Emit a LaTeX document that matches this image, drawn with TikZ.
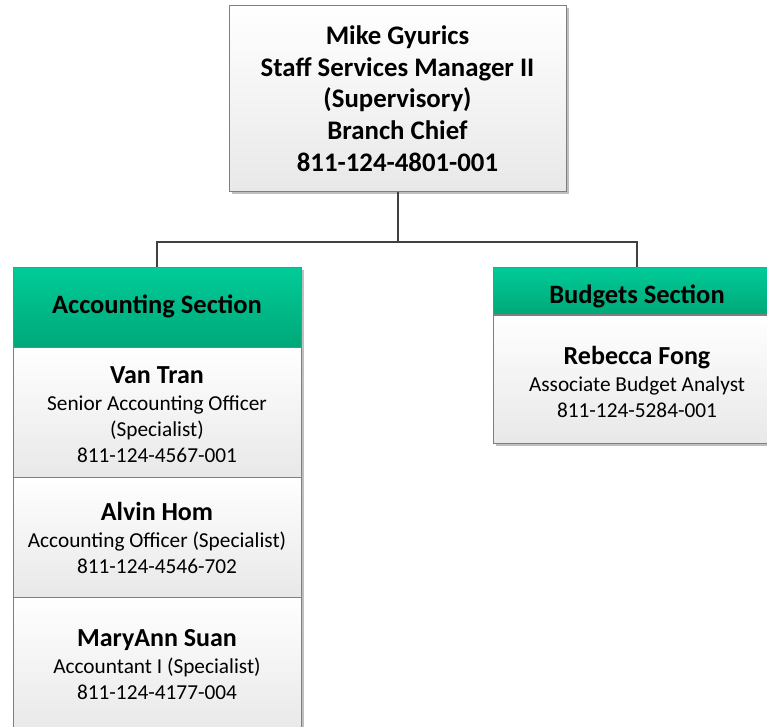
\documentclass[tikz,border=0pt]{standalone}
\usepackage{fontspec}
\setmainfont{Carlito}
\usetikzlibrary{shadows}
\definecolor{linegray}{HTML}{404040}
\definecolor{bordergray}{HTML}{7F7F7F}
\definecolor{greentop}{HTML}{00CC99}
\definecolor{greenbot}{HTML}{00A878}
\newcommand{\nm}[1]{{\fontsize{26}{26}\selectfont\bfseries #1}}
\tikzset{
  box/.style={draw=bordergray, line width=1pt, rectangle, align=center,
    top color=white, bottom color=black!9, inner sep=0pt,
    drop shadow={shadow xshift=2.5pt, shadow yshift=-2.5pt, opacity=0.25, fill=black},
    font=\fontsize{21.3}{26}\selectfont},
  header/.style={draw=bordergray, line width=1pt, rectangle, align=center,
    top color=greentop, bottom color=greenbot, inner sep=0pt,
    drop shadow={shadow xshift=2.5pt, shadow yshift=-2.5pt, opacity=0.25, fill=black},
    font=\fontsize{26.5}{30}\selectfont\bfseries},
  htext/.style={font=\fontsize{26.5}{30}\selectfont\bfseries},
  btext/.style={align=center, font=\fontsize{21.3}{26}\selectfont}
}
\tikzset{conn/.style={draw=linegray, line width=2pt}}
\begin{document}
\begin{tikzpicture}[x=1pt,y=-1pt]
\useasboundingbox (0,0) rectangle (767,726);
\fill[white] (0,0) rectangle (767,726);
% top box
\node[box, minimum width=337pt, minimum height=186pt,
  font=\fontsize{26.8}{31.7}\selectfont\bfseries] (top) at (397.5,98.5)
  {Mike Gyurics\\Staff Services Manager II\\(Supervisory)\\Branch Chief\\811-124-4801-001};
% accounting
\node[header, minimum width=288pt, minimum height=80pt] (acc) at (157,307) {};
\node[htext] (acct) at (157,306) {Accounting Section};
\node[box, minimum width=288pt, minimum height=130pt] (van) at (157,412) {};
\node[btext] (vant) at (157,415)
  {\nm{Van Tran}\\[1pt]Senior Accounting Officer\\(Specialist)\\811-124-4567-001};
\node[box, minimum width=288pt, minimum height=120pt] (alvin) at (157,537) {};
\node[btext] (alvint) at (157,538)
  {\nm{Alvin Hom}\\[1pt]Accounting Officer (Specialist)\\811-124-4546-702};
\node[box, minimum width=288pt, minimum height=136pt] (mary) at (157,665) {};
\node[btext] (maryt) at (157,665)
  {\nm{MaryAnn Suan}\\[1pt]Accountant I (Specialist)\\811-124-4177-004};
% budgets
\node[header, minimum width=288pt, minimum height=47pt] (bud) at (637,290.5) {};
\node[htext] (budt) at (637,296.5) {Budgets Section};
\node[box, minimum width=288pt, minimum height=128pt] (reb) at (637,379) {};
\node[btext] (rebt) at (637,381.5)
  {\nm{Rebecca Fong}\\[1pt]Associate Budget Analyst\\811-124-5284-001};
% connectors
\coordinate (j) at (397.5,241.5);
\draw[conn] (top.south) -- (j);
\draw[conn] (acc.north) |- (j) -| (bud.north);
\end{tikzpicture}
\end{document}
